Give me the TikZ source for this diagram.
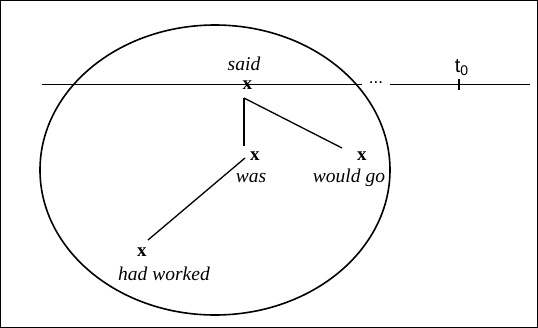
\documentclass[tikz,border=0pt]{standalone}
\usepackage{fontspec}
\setmainfont{Liberation Serif}
\newfontfamily\tlfont{Liberation Sans}
\usetikzlibrary{positioning}

\begin{document}
\begin{tikzpicture}[
  x=0.5pt, y=-0.5pt,
  xmark/.style={font=\fontsize{9.5}{11}\selectfont\bfseries, inner sep=0pt, anchor=base},
  verb/.style={font=\fontsize{9.75}{11}\selectfont\itshape, inner sep=0pt, anchor=base},
  link/.style={line width=0.65pt},
  timeline/.style={line width=0.5pt},
]
  \useasboundingbox (0,0) rectangle (538,328);
  \draw[line width=0.6pt] (0.6,0.6) rectangle (537.4,327.4);

  % reference interval
  \draw[line width=0.8pt] (215,170) ellipse [x radius=87.5pt, y radius=72.5pt];

  % time line
  \coordinate (tlstart) at (42,84);
  \coordinate (tlgap) at (362,84);
  \coordinate (tlresume) at (390,84);
  \coordinate (tlend) at (530,84);
  \coordinate (nowtop) at (459,79);
  \coordinate (nowfoot) at (459,90);
  \draw[timeline] (tlstart) -- (tlgap);
  \draw[timeline] (tlresume) -- (tlend);
  \draw[line width=1pt] (nowtop) -- (nowfoot);
  \node[font=\tlfont\fontsize{8.5}{9}\selectfont, inner sep=0pt, anchor=base] (dots) at (376,83) {...};
  \node[font=\tlfont\fontsize{10}{11}\selectfont, inner sep=0pt, anchor=base] (now) at (462,72) {t\textsubscript{0}};

  % events
  \node[xmark] (said) at (247.5,89) {x};
  \node[xmark] (was) at (255,160) {x};
  \node[xmark] (wouldgo) at (362,160) {x};
  \node[xmark] (hadworked) at (142,256) {x};

  \node[verb] (saidtxt) at (244,70) {said};
  \node[verb] (wastxt) at (251,182) {was};
  \node[verb] (wouldgotxt) at (349,182) {would go};
  \node[verb] (hadworkedtxt) at (164,280) {had worked};

  \coordinate (saidfoot) at (244,98);
  \coordinate (wastop) at (244,146);
  \coordinate (wouldgotop) at (342,148);
  \coordinate (wasfoot) at (245,158);
  \coordinate (hadworkedtop) at (148,240);
  \draw[link] (saidfoot) -- (wastop);
  \draw[link] (saidfoot) -- (wouldgotop);
  \draw[link] (wasfoot) -- (hadworkedtop);
\end{tikzpicture}
\end{document}
